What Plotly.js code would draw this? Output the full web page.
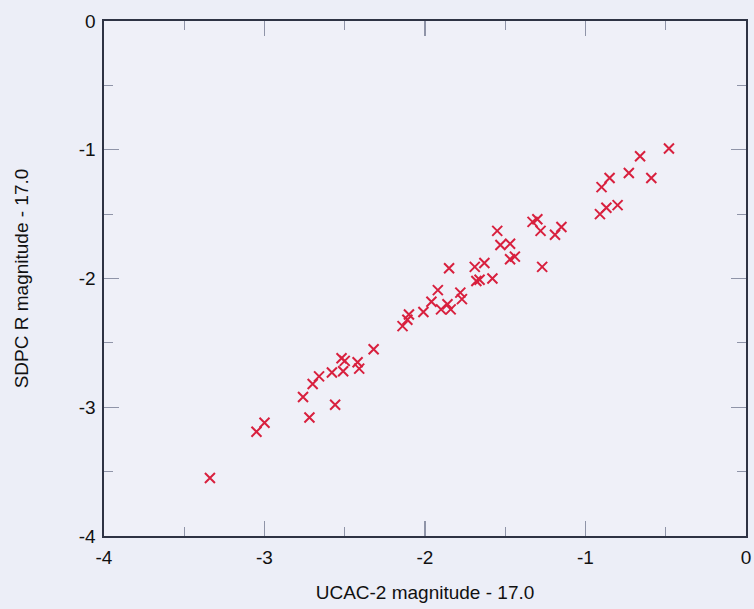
<!DOCTYPE html>
<html>
<head>
<meta charset="utf-8">
<script src="https://cdn.plot.ly/plotly-3.0.1.min.js"></script>
<style>
  html, body { margin: 0; padding: 0; background: #eceef7; }
  #chart { width: 754px; height: 609px; }
</style>
</head>
<body>
<div id="chart"></div>
<script>
// UCAC-2 magnitude - 17.0 (x) vs SDPC R magnitude - 17.0 (y)
const ucacMag = [
  -3.34, -3.05, -3.00, -2.76, -2.72, -2.70, -2.66, -2.58, -2.56, -2.52,
  -2.50, -2.51, -2.42, -2.41, -2.32, -2.14, -2.11, -2.10, -2.01, -1.96,
  -1.92, -1.90, -1.86, -1.84, -1.85, -1.78, -1.77, -1.69, -1.63, -1.68,
  -1.66, -1.58, -1.55, -1.53, -1.47, -1.47, -1.44, -1.33, -1.30, -1.28,
  -1.27, -1.19, -1.15, -0.91, -0.87, -0.80, -0.90, -0.85, -0.73, -0.66,
  -0.59, -0.48
];
const sdpcMag = [
  -3.55, -3.19, -3.12, -2.92, -3.08, -2.82, -2.76, -2.73, -2.98, -2.62,
  -2.64, -2.72, -2.65, -2.70, -2.55, -2.37, -2.32, -2.28, -2.26, -2.18,
  -2.09, -2.24, -2.20, -2.24, -1.92, -2.11, -2.16, -1.91, -1.88, -2.02,
  -2.01, -2.00, -1.63, -1.74, -1.73, -1.85, -1.83, -1.56, -1.54, -1.63,
  -1.91, -1.66, -1.60, -1.50, -1.45, -1.43, -1.29, -1.22, -1.18, -1.05,
  -1.22, -0.99
];
const axisTicks = [-4, -3, -2, -1, 0];
const axisTickLabels = ['-4', '-3', '-2', '-1', '0'];

const trace = {
  x: ucacMag,
  y: sdpcMag,
  type: 'scatter',
  mode: 'markers',
  marker: {
    symbol: 'x-thin',
    size: 10,
    color: '#d8203e',
    line: { color: '#d8203e', width: 2 }
  },
  hoverinfo: 'x+y'
};

const axisCommon = {
  range: [-4, 0],
  tickmode: 'array',
  tickvals: axisTicks,
  ticktext: axisTickLabels,
  ticks: 'inside',
  ticklen: 15,
  tickwidth: 1.2,
  tickcolor: '#8f94a8',
  showline: true,
  linecolor: '#2e3344',
  linewidth: 1.6,
  mirror: 'ticks',
  showgrid: false,
  zeroline: false,
  ticklabeloverflow: 'allow',
  tickfont: { family: 'Liberation Sans, Arial, sans-serif', size: 19, color: '#111111' },
  minor: { dtick: 0.5, ticks: 'inside', ticklen: 9, tickwidth: 1.2, tickcolor: '#8f94a8', showgrid: false }
};

const layout = {
  width: 754,
  height: 609,
  margin: { l: 104, r: 8, t: 21, b: 73 },
  paper_bgcolor: '#eceef7',
  plot_bgcolor: '#eff0f8',
  showlegend: false,
  xaxis: Object.assign({}, axisCommon, {
    ticklabelstandoff: 4,
    title: {
      text: 'UCAC-2 magnitude - 17.0',
      font: { family: 'Liberation Sans, Arial, sans-serif', size: 19, color: '#111111' },
      standoff: 18
    }
  }),
  yaxis: Object.assign({}, axisCommon, {
    ticklabelstandoff: 3,
    title: {
      text: 'SDPC R magnitude - 17.0',
      font: { family: 'Liberation Sans, Arial, sans-serif', size: 19, color: '#111111' },
      standoff: 45
    }
  })
};

Plotly.newPlot('chart', [trace], layout, { displayModeBar: false, staticPlot: true });
</script>
</body>
</html>
